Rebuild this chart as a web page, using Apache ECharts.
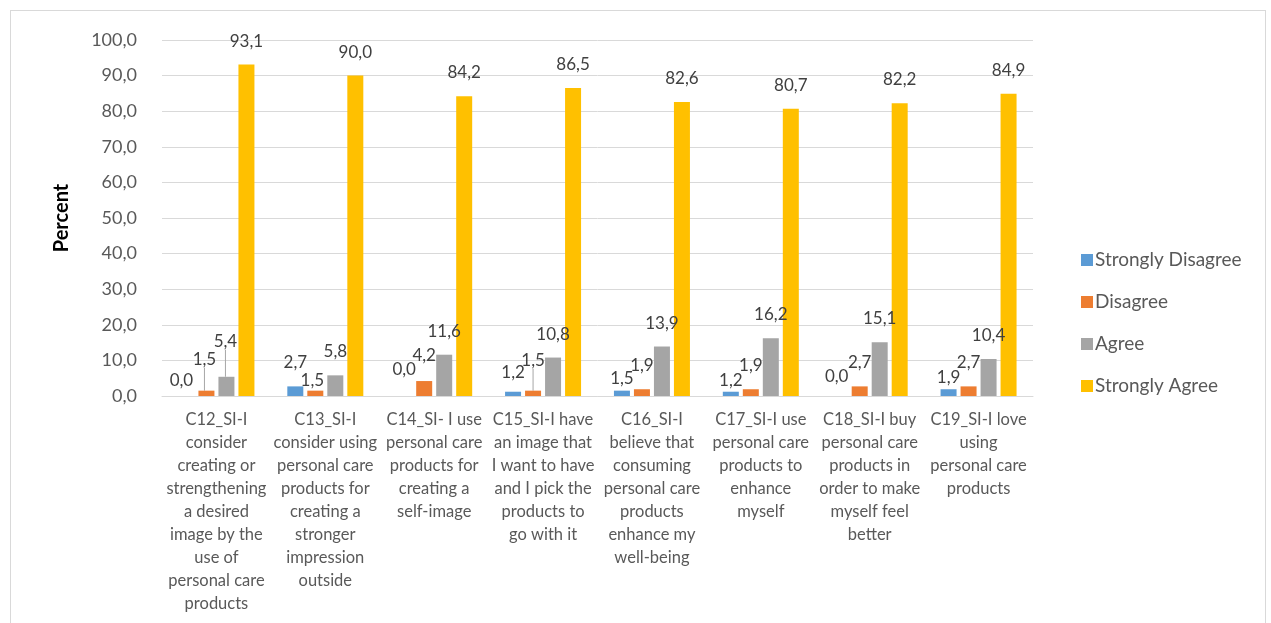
<!DOCTYPE html>
<html>
<head>
<meta charset="utf-8">
<script src="https://cdn.jsdelivr.net/npm/echarts@6/dist/echarts.min.js"></script>
<style>
  html, body { margin: 0; padding: 0; background: #fff; }
  #frame { position: absolute; left: 10px; top: 10px; width: 1256px; height: 640px; border: 1px solid #d9d9d9; box-sizing: border-box; }
  #chart { position: absolute; left: 0; top: 0; width: 1271px; height: 623px; }
</style>
</head>
<body>
<div id="frame"></div>
<div id="chart"></div>
<script>
// Survey items (axis labels broken into lines)
const categories = [
  'C12_SI-I\nconsider\ncreating or\nstrengthening\na desired\nimage by the\nuse of\npersonal care\nproducts',
  'C13_SI-I\nconsider using\npersonal care\nproducts for\ncreating a\nstronger\nimpression\noutside',
  'C14_SI- I use\npersonal care\nproducts for\ncreating a\nself-image',
  'C15_SI-I have\nan image that\nI want to have\nand I pick the\nproducts to\ngo with it',
  'C16_SI-I\nbelieve that\nconsuming\npersonal care\nproducts\nenhance my\nwell-being',
  'C17_SI-I use\npersonal care\nproducts to\nenhance\nmyself',
  'C18_SI-I buy\npersonal care\nproducts in\norder to make\nmyself feel\nbetter',
  'C19_SI-I love\nusing\npersonal care\nproducts'
];

// Percent of respondents per answer
const stronglyDisagree = [0.0, 2.7, 0.0, 1.2, 1.5, 1.2, 0.0, 1.9];
const disagree         = [1.5, 1.5, 4.2, 1.5, 1.9, 1.9, 2.7, 2.7];
const agree            = [5.4, 5.8, 11.6, 10.8, 13.9, 16.2, 15.1, 10.4];
const stronglyAgree    = [93.1, 90.0, 84.2, 86.5, 82.6, 80.7, 82.2, 84.9];

const yTicks = { min: 0, max: 100, interval: 10 };

const seriesDefs = [
  { name: 'Strongly Disagree', data: stronglyDisagree, color: '#5B9BD5' },
  { name: 'Disagree',          data: disagree,         color: '#ED7D31' },
  { name: 'Agree',             data: agree,            color: '#A5A5A5' },
  { name: 'Strongly Agree',    data: stronglyAgree,    color: '#FFC000' }
];

const FONT = 'Lato, "Open Sans", sans-serif';
const fmt = v => Number(v).toFixed(1).replace('.', ',');

// labels nudged apart where they crowd the short bars (key: series-item);
// the ones lifted furthest get a guide line back to their bar
const nudges = {
  '0-0': { dx: -5, dy: 8.5 },
  '1-0': { dx: -2, dy: -8, line: true },
  '2-0': { dx: -1, dy: -12, line: true },
  '1-1': { dx: -3, dy: 13 },
  '0-2': { dx: 0, dy: -2.5 },
  '1-2': { dx: 0, dy: -2.5 },
  '0-3': { dx: 0, dy: 4 },
  '1-3': { dx: 0, dy: -7, line: true },
  '0-4': { dx: 0, dy: 11 },
  '0-5': { dx: 0, dy: 12 },
  '0-6': { dx: -3, dy: 4.5 },
  '0-7': { dx: 0, dy: 12 }
};

const chart = echarts.init(document.getElementById('chart'));
chart.setOption({
  animation: false,
  textStyle: { fontFamily: FONT },
  grid: { left: 162, right: 238, top: 40, bottom: 227, containLabel: false },
  legend: {
    orient: 'vertical',
    left: 1076,
    top: 245,
    itemWidth: 12,
    itemHeight: 12,
    itemGap: 22,
    icon: 'rect',
    textStyle: { fontSize: 19, color: '#595959', fontFamily: FONT, lineHeight: 20, padding: [0, 0, 0, -3] },
    data: seriesDefs.map(s => s.name)
  },
  xAxis: {
    type: 'category',
    data: categories,
    axisLine: { lineStyle: { color: '#d9d9d9', width: 1 } },
    axisTick: { show: false },
    axisLabel: {
      interval: 0,
      color: '#595959',
      fontSize: 16.5,
      lineHeight: 23,
      margin: 12,
      fontFamily: FONT
    }
  },
  yAxis: {
    type: 'value',
    min: yTicks.min,
    max: yTicks.max,
    interval: yTicks.interval,
    name: 'Percent',
    nameLocation: 'middle',
    nameGap: 90,
    nameRotate: 90,
    nameTextStyle: { fontSize: 20, fontWeight: 'bold', color: '#000', fontFamily: FONT },
    axisLine: { show: false },
    axisTick: { show: false },
    splitLine: { lineStyle: { color: '#d9d9d9', width: 1 } },
    axisLabel: { color: '#595959', fontSize: 18, margin: 25, formatter: v => fmt(v), fontFamily: FONT }
  },
  series: seriesDefs.map((s, si) => ({
    type: 'bar',
    name: s.name,
    data: s.data.map((v, i) => {
      const n = nudges[si + '-' + i];
      return n && n.line ? { value: v, labelLine: { show: true } } : v;
    }),
    barWidth: 16,
    barGap: '25%',
    barCategoryGap: '30%',
    itemStyle: { color: s.color },
    label: {
      show: true,
      position: 'top',
      distance: 15,
      color: '#404040',
      fontSize: 17,
      fontFamily: FONT,
      formatter: p => fmt(p.value)
    },
    labelLine: { show: false, lineStyle: { color: '#a6a6a6', width: 1 } },
    labelLayout: p => {
      const n = nudges[si + '-' + p.dataIndex];
      return n ? { dx: n.dx, dy: n.dy } : {};
    }
  }))
});
</script>
</body>
</html>
